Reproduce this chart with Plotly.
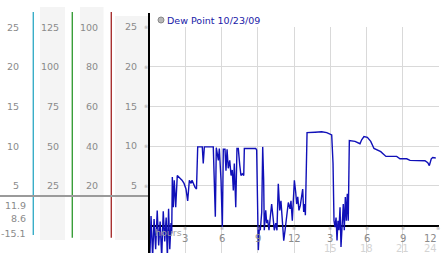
import plotly.graph_objects as go

# ---- data (hours since midnight, dew point) ----
hours = [0.00, 0.08, 0.17, 0.30, 0.42, 0.55, 0.68, 0.80, 0.92, 1.05, 1.18, 1.30, 1.42, 1.52, 1.62, 1.72, 1.82, 1.88,
         1.93, 2.01, 2.09, 2.21, 2.34, 2.48, 2.73, 2.90, 3.06, 3.20, 3.34, 3.48, 3.56, 3.81, 3.93,
         4.03, 4.41, 4.49, 4.58, 5.32, 5.40, 5.49, 5.57, 5.74, 5.82, 5.96, 6.07, 6.15, 6.29, 6.37, 6.46,
         6.56, 6.68, 6.79, 6.89, 6.98, 7.06, 7.18, 7.28, 7.39, 7.51, 7.61, 7.72, 7.84, 7.89, 8.83, 8.91,
         8.99, 9.05, 9.13, 9.21, 9.33, 9.41, 9.49, 9.54, 9.66, 9.74, 9.82, 9.93, 10.04, 10.15, 10.26, 10.37,
         10.49, 10.59, 10.70, 10.82, 10.92, 10.98, 11.07, 11.15, 11.26, 11.40, 11.53, 11.67, 11.75, 11.86,
         11.94, 12.03, 12.14, 12.22, 12.31, 12.41, 12.52, 12.64, 12.72, 12.80, 12.89, 12.94, 12.99,
         13.08, 13.74, 14.29, 14.71, 14.98, 15.12, 15.23, 15.31, 15.39, 15.48, 15.56, 15.64, 15.72, 15.81,
         15.89, 16.00, 16.08, 16.16, 16.25, 16.33, 16.41, 16.49, 16.58, 17.05, 17.32, 17.46, 17.60, 17.79,
         18.07, 18.35, 18.62, 18.89, 19.18, 19.39, 19.61, 20.50, 20.77, 21.33, 21.60, 22.84, 23.07, 23.20,
         23.36, 23.48, 23.73]
dew_point = [1.5, -3.5, 1.2, -4.0, 0.8, -3.0, 1.9, -2.5, 0.5, -4.0, 1.8, -2.0, 1.0, -4.0, 2.1, -3.0, 0.3, -1.0,
             6.1, 2.3, 5.7, 2.3, 6.3, 6.1, 5.7, 5.3, 4.6, 3.1, 5.7, 5.3, 5.7, 4.8, 4.6,
             9.9, 9.9, 7.8, 9.9, 9.9, 5.7, 1.1, 9.8, 8.2, 9.7, 5.7, -0.2, 9.6, 9.6, 6.9, 9.6,
             7.2, 8.2, 6.3, 7.0, 4.4, 7.8, 2.3, 9.7, 9.7, 7.6, 6.3, 6.5, 6.3, 9.7, 9.7, 9.5,
             -0.2, -3.1, -0.2, -0.6, 1.7, 9.9, 5.7, -0.6, 1.9, 0.3, 0.7, -0.6, 1.1, 2.7, 1.1, -0.6,
             0.3, -0.6, 5.25, 1.9, 3.1, 1.9, -1.0, -1.9, -0.6, 1.2, 2.9, 2.1, 3.1, 0.6,
             3.8, 5.7, 4.2, 2.7, 3.6, 1.9, 2.5, 4.2, 4.6, 1.7, 2.7, 1.3, 5.25,
             11.7, 11.75, 11.8, 11.7, 11.55, 11.4, 7.8, 0.6, -0.2, 1.0, -1.9, 0.6, -0.6, 2.3,
             -2.7, 0.6, 2.7, -0.6, 3.6, 0.6, 4.0, 0.6, 10.7, 10.6, 10.4, 10.3, 10.8, 11.2,
             11.1, 10.6, 9.7, 9.5, 9.3, 9.0, 8.7, 8.7, 8.4, 8.4, 8.2, 8.15, 7.9, 7.55,
             8.4, 8.56, 8.5]

series_name = "Dew Point 10/23/09"
y_ticks = [5, 10, 15, 20, 25]
col1_labels = ["25", "20", "15", "10", "5"]
col2_labels = ["125", "100", "75", "50", "25"]
col3_labels = ["100", "80", "60", "40", "20"]
x_grid = [0, 3, 6, 9, 12, 15, 18, 21, 24]
x_tick_pos = [3, 6, 9, 12, 15, 18, 21, 24]
x_tick_text = ["3", "6", "9", "12", "3", "6", "9", "12"]
x_tick2_pos = [15, 18, 21, 24]
x_tick2_text = ["15", "18", "21", "24"]
stats_text = ["11.9", "8.6", "-15.1"]

# ---- layout geometry ----
W, H = 442, 253
L, R, T, B = 149, 3, 27, 0
PW, PH = W - L - R, H - T - B
YMAX = 25
YMIN = YMAX - PH / 7.94


def px(x):
    return (x - L) / PW


def py(y):
    return (H - B - y) / PH


FONT = "DejaVu Sans, Verdana, Noto Sans CJK JP"
GRAY = "#8a8a8a"

fig = go.Figure()
fig.add_trace(go.Scatter(x=hours, y=dew_point, mode="lines",
                         line=dict(color="#1010b8", width=1.4),
                         name=series_name, showlegend=False, hoverinfo="skip"))

shapes = []
# left gray panels
for x0, x1, y0 in [(40, 65, 7), (80, 103.5, 7), (115, 148, 16)]:
    shapes.append(dict(type="rect", xref="paper", yref="paper", x0=px(x0), x1=px(x1),
                       y0=py(240), y1=py(y0), fillcolor="#f4f4f4", line=dict(width=0), layer="below"))
# coloured axis lines
for x, col, yb in [(33.3, "#3aaec8", 235), (72.3, "#3a9e3a", 237.7), (111.3, "#a83232", 237.7)]:
    shapes.append(dict(type="line", xref="paper", yref="paper", x0=px(x), x1=px(x),
                       y0=py(yb), y1=py(12), line=dict(color=col, width=1.4)))
# gray separator
shapes.append(dict(type="line", xref="paper", yref="paper", x0=px(0), x1=px(149),
                   y0=py(196), y1=py(196), line=dict(color="#9a9a9a", width=2)))
# main black axis line
shapes.append(dict(type="line", xref="paper", yref="paper", x0=px(149), x1=px(149),
                   y0=0, y1=py(13), line=dict(color="black", width=2)))
# legend marker
shapes.append(dict(type="circle", xref="paper", yref="paper", x0=px(158), x1=px(164),
                   y0=py(23), y1=py(17), fillcolor="#b8b8b8", line=dict(color="#888", width=1)))

ann = []
for i, v in enumerate(y_ticks[::-1]):
    ann.append(dict(text=col1_labels[i], x=px(21), y=v, xref="paper", yref="y",
                    xanchor="right", yanchor="middle", showarrow=False, font=dict(family=FONT, size=9.5, color=GRAY)))
    ann.append(dict(text=col2_labels[i], x=px(60.5), y=v, xref="paper", yref="y",
                    xanchor="right", yanchor="middle", showarrow=False, font=dict(family=FONT, size=9.5, color=GRAY)))
    ann.append(dict(text=col3_labels[i], x=px(100), y=v, xref="paper", yref="y",
                    xanchor="right", yanchor="middle", showarrow=False, font=dict(family=FONT, size=9.5, color=GRAY)))
    ann.append(dict(text="※", x=px(145.5), y=v, xref="paper", yref="y",
                    xanchor="center", yanchor="middle", showarrow=False, font=dict(family=FONT, size=5, color="#a8a8a8")))
for i, t in enumerate(stats_text):
    ann.append(dict(text=t, x=px(27.5), y=py([205, 218.7, 233][i]), xref="paper", yref="paper",
                    xanchor="right", yanchor="middle", showarrow=False, font=dict(family=FONT, size=9.5, color=GRAY)))
for xp, t in zip(x_tick_pos, x_tick_text):
    last = xp == x_tick_pos[-1]
    ann.append(dict(text=t, x=xp, y=py(238), xref="x", yref="paper",
                    xanchor="right" if last else "center", yanchor="middle", showarrow=False,
                    font=dict(family=FONT, size=10, color=GRAY)))
    ann.append(dict(text="※", x=xp - (0.1 if last else 0), y=py(228), xref="x", yref="paper",
                    xanchor="center", yanchor="middle", showarrow=False, font=dict(family=FONT, size=5, color="#a8a8a8")))
for xp, t in zip(x_tick2_pos, x_tick2_text):
    last = xp == x_tick2_pos[-1]
    ann.append(dict(text=t, x=xp, y=py(248), xref="x", yref="paper",
                    xanchor="right" if last else "center", yanchor="middle", showarrow=False,
                    font=dict(family=FONT, size=10, color="#d4d4d4")))
ann.append(dict(text="hours", x=px(153), y=py(232), xref="paper", yref="paper",
                xanchor="left", yanchor="middle", showarrow=False, font=dict(family=FONT, size=9.5, color="#a0a0a0")))
ann.append(dict(text=series_name, x=px(165), y=py(20), xref="paper", yref="paper",
                xanchor="left", yanchor="middle", showarrow=False, font=dict(family=FONT, size=9.5, color="#2020a8")))

fig.update_layout(
    width=W, height=H, margin=dict(l=L, r=R, t=T, b=B, pad=0),
    paper_bgcolor="white", plot_bgcolor="white", showlegend=False,
    shapes=shapes, annotations=ann,
    xaxis=dict(range=[0, 24], tickvals=x_grid, showticklabels=False, ticks="",
               showgrid=True, gridcolor="#d9d9d9", gridwidth=1, zeroline=False, showline=False, fixedrange=True),
    yaxis=dict(range=[YMIN, YMAX], tickvals=y_ticks, ticktext=[str(v) for v in y_ticks], ticks="",
               ticklabelstandoff=11, tickfont=dict(family=FONT, size=9.5, color=GRAY),
               showgrid=True, gridcolor="#d9d9d9", gridwidth=1,
               zeroline=True, zerolinecolor="black", zerolinewidth=2, showline=False, fixedrange=True),
)
fig.write_html("out.html")
